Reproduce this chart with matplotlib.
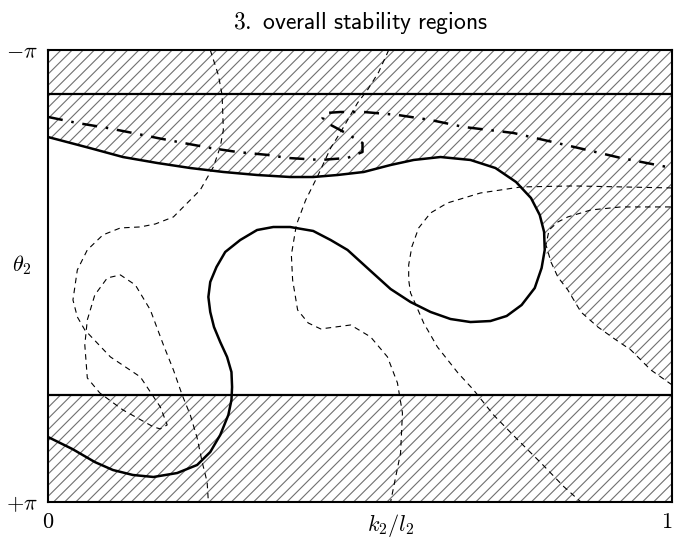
import numpy as np
import matplotlib
matplotlib.use("Agg")
import matplotlib.pyplot as plt

plt.rcParams['mathtext.fontset'] = 'cm'
plt.rcParams['hatch.linewidth'] = 0.8

# limits of the horizontal bands
theta_top_band = -2.530
theta_bot_band = 1.654

# thick solid boundary curve
bound_x = [0.0, 0.067, 0.120, 0.175, 0.228, 0.281, 0.335, 0.388, 0.425, 0.464, 0.506, 0.549,
           0.586, 0.629, 0.677, 0.717, 0.750, 0.774, 0.788, 0.795, 0.796,
           0.791, 0.780, 0.759, 0.735, 0.709, 0.677, 0.645, 0.613, 0.581, 0.549, 0.517, 0.480,
           0.453, 0.425, 0.388, 0.361, 0.335, 0.308, 0.284, 0.270, 0.260, 0.257, 0.260, 0.266,
           0.276, 0.287, 0.294, 0.295, 0.294, 0.289, 0.276, 0.260, 0.239, 0.207, 0.169, 0.136,
           0.104, 0.075, 0.039, 0.0]
bound_t = [-1.932, -1.779, -1.654, -1.571, -1.501, -1.446, -1.404, -1.376, -1.376, -1.404, -1.446, -1.543,
           -1.613, -1.654, -1.613, -1.501, -1.307, -1.084, -0.848, -0.612, -0.362,
           -0.111, 0.167, 0.403, 0.556, 0.626, 0.640, 0.598, 0.500, 0.362, 0.181, -0.070, -0.362,
           -0.500, -0.626, -0.681, -0.681, -0.639, -0.500, -0.334, -0.125, 0.083, 0.292, 0.500, 0.709,
           0.918, 1.126, 1.335, 1.543, 1.724, 1.932, 2.210, 2.447, 2.627, 2.739, 2.794, 2.766,
           2.697, 2.586, 2.405, 2.238]
n_upper = 21  # points of the boundary that close the white area

# thin dashed curves
a_x = [0.260, 0.273, 0.279, 0.281, 0.276, 0.265, 0.244, 0.220, 0.201, 0.172, 0.148, 0.116, 0.088,
       0.063, 0.047, 0.040, 0.047, 0.059, 0.100, 0.148, 0.180, 0.191, 0.180, 0.169, 0.120, 0.083,
       0.063, 0.059, 0.063, 0.075, 0.095, 0.116, 0.140, 0.164, 0.185, 0.201, 0.215, 0.228, 0.239,
       0.247, 0.255, 0.257]
a_t = [-3.142, -2.794, -2.516, -2.030, -1.794, -1.516, -1.196, -0.987, -0.821, -0.723, -0.682, -0.668, -0.571,
       -0.362, -0.084, 0.333, 0.569, 0.750, 1.125, 1.403, 1.821, 2.070, 2.126, 2.098, 1.862, 1.626,
       1.417, 0.959, 0.611, 0.264, 0.027, -0.015, 0.125, 0.472, 0.959, 1.306, 1.654, 1.932, 2.251,
       2.585, 2.863, 3.142]

c_x = [0.546, 0.530, 0.512, 0.496, 0.469, 0.453, 0.433, 0.413, 0.398, 0.390, 0.392, 0.400, 0.417,
       0.437, 0.485, 0.517, 0.544, 0.560, 0.568, 0.565, 0.549]
c_t = [-3.142, -2.836, -2.586, -2.405, -2.002, -1.780, -1.405, -1.057, -0.710, -0.293, 0.055, 0.472, 0.653,
       0.736, 0.681, 0.847, 1.125, 1.487, 1.904, 2.460, 3.142]

d_x = [1.0, 0.843, 0.758, 0.693, 0.640, 0.613, 0.594, 0.583, 0.578, 0.578, 0.581, 0.586, 0.602,
       0.624, 0.657, 0.682, 0.714, 0.753, 0.790, 0.827, 0.854]
d_t = [-1.224, -1.252, -1.238, -1.154, -1.015, -0.876, -0.668, -0.404, -0.154, 0.055, 0.236, 0.333, 0.653,
       0.986, 1.348, 1.584, 1.932, 2.279, 2.599, 2.932, 3.142]

e_x = [1.0, 0.966, 0.934, 0.908, 0.881, 0.854, 0.833, 0.817, 0.806, 0.798, 0.803, 0.817, 0.833, 0.870, 0.918, 1.0]
e_t = [1.514, 1.306, 1.028, 0.875, 0.708, 0.500, 0.194, 0.014, -0.195, -0.432, -0.640, -0.751, -0.821, -0.918,
       -0.960, -0.960]
n_e_lower = 9  # lower branch of e closes the white area

# thick dash-dot curve
f_x = [0.0, 0.047, 0.095, 0.136, 0.175, 0.217, 0.260, 0.303, 0.352, 0.384, 0.437, 0.480, 0.504,
       0.504, 0.477, 0.453, 0.440, 0.445, 0.469, 0.506, 0.560, 0.613, 0.666, 0.746, 0.843, 0.918, 1.0]
f_t = [-2.211, -2.127, -2.058, -1.988, -1.919, -1.849, -1.780, -1.724, -1.683, -1.641, -1.613, -1.641, -1.724,
       -1.849, -1.988, -2.100, -2.197, -2.266, -2.280, -2.280, -2.239, -2.169, -2.072, -1.988, -1.794, -1.641, -1.502]

fig = plt.figure(figsize=(6.75, 5.4), dpi=100)
ax = fig.add_axes([0.0711, 0.0704, 0.9245, 0.837])

# hatched background, white region on top of it
ax.fill([0, 1, 1, 0], [-np.pi, -np.pi, np.pi, np.pi], facecolor='white',
        edgecolor='#707070', linewidth=0, hatch='///', zorder=1)
white_x = bound_x[:n_upper] + e_x[:n_e_lower][::-1] + [1.0, 1.0, 0.0]
white_t = bound_t[:n_upper] + e_t[:n_e_lower][::-1] + [e_t[0], theta_bot_band, theta_bot_band]
ax.fill(white_x, white_t, facecolor='white', edgecolor='none', zorder=2)

ax.axhline(theta_top_band, color='black', lw=1.6, zorder=4)
ax.axhline(theta_bot_band, color='black', lw=1.6, zorder=4)

dash = dict(color='black', lw=0.8, ls=(0, (5, 4)), zorder=3)
ax.plot(a_x, a_t, **dash)
ax.plot(c_x, c_t, **dash)
ax.plot(d_x, d_t, **dash)
ax.plot(e_x, e_t, **dash)

ax.plot(f_x, f_t, color='black', lw=1.8, ls=(0, (6, 3.5, 1, 3.5)), zorder=4)
ax.plot(bound_x, bound_t, color='black', lw=1.8, zorder=5)

ax.set_xlim(0, 1)
ax.set_ylim(np.pi, -np.pi)
ax.set_xticks([0, 1], ['$0$', '$1$'])
ax.set_yticks([-np.pi, np.pi], [r'$-\pi$', r'$+\pi$'])
ax.tick_params(length=0, pad=7, labelsize=16)
ax.xaxis.get_major_ticks()[1].label1.set_horizontalalignment('right')
for s in ax.spines.values():
    s.set_linewidth(1.5)

ax.set_xlabel('$k_2/l_2$', fontsize=16)
ax.xaxis.set_label_coords(0.549, -0.022, transform=ax.transAxes)
ax.xaxis.label.set_va('top')
ax.set_ylabel(r'$\theta_2$', fontsize=16, rotation=0)
ax.yaxis.set_label_coords(-0.042, 0.524)
ax.yaxis.label.set_va('center')
ax.yaxis.label.set_ha('center')

ax.set_title(r'$\mathsf{3.\ overall\ stability\ regions}$', fontsize=17, pad=15)

fig.savefig('out.png', dpi=100)
